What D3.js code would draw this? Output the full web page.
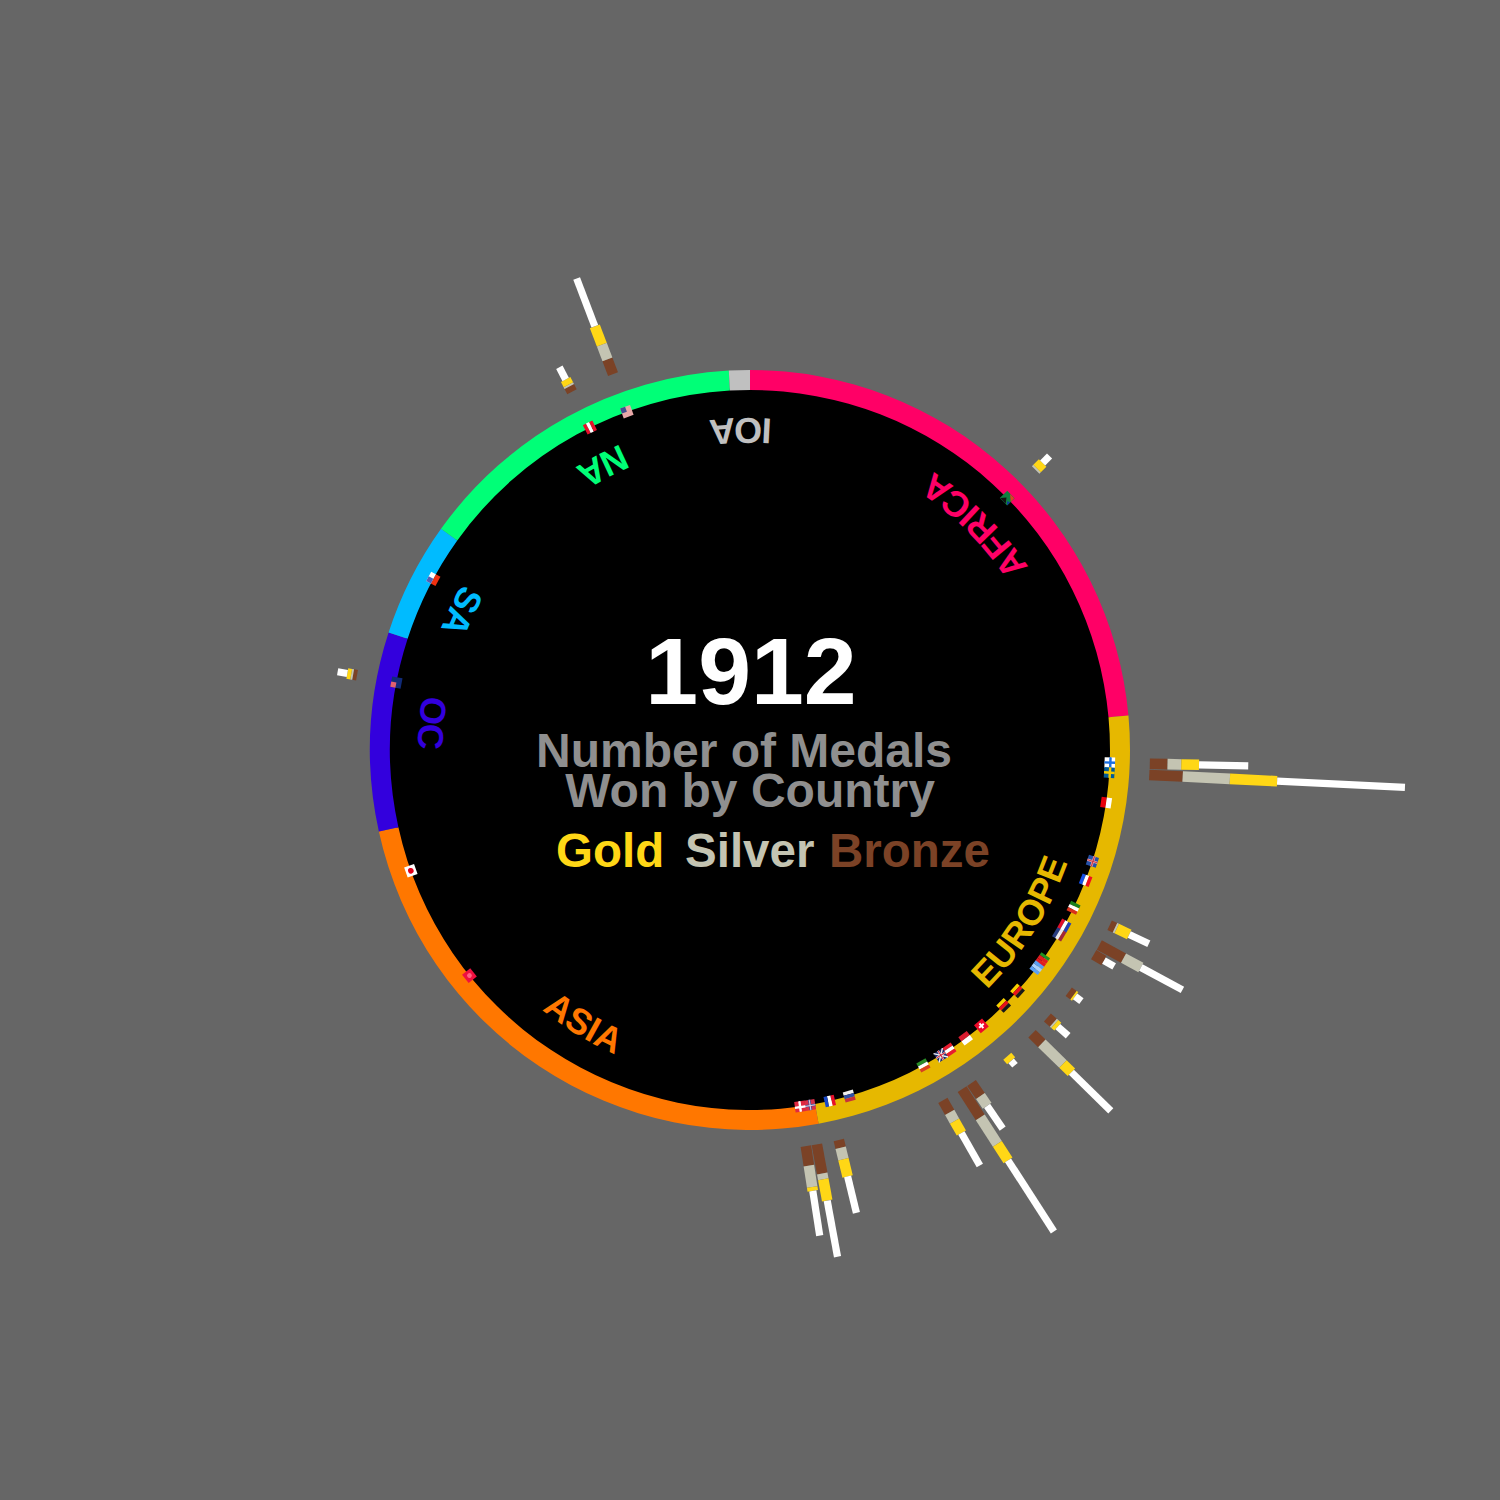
<!DOCTYPE html>
<html>
<head>
<meta charset="utf-8">
<script src="https://cdnjs.cloudflare.com/ajax/libs/d3/7.8.5/d3.min.js"></script>
<style>html,body{margin:0;padding:0;background:#666666;overflow:hidden}svg{display:block}text{font-family:"Liberation Sans",Arial,sans-serif;font-weight:bold}</style>
</head>
<body>
<svg id="chart" width="1500" height="1500"></svg>
<script>
// Continents: how many of the 225 slots round the ring each one takes
const continents = ["AFRICA","EUROPE","ASIA","OC","SA","NA","IOA"];
const continentSlots = [53,53,55,19,11,32,2];
const continentColors = ["#ff0066","#e6b800","#ff7700","#3300dd","#00bbff","#00ff77","#c0c0c0"];
const labelNudge = [2.6,-4.8,-2.3,2,-1.1,1.4,-0.1];
const labelRadius = [333,337,333,332,332,332,332];

// Medal table of 1912, by ring slot
const medalSlots  = [57,58,72,74,75,79,82,84,87,91,92,94,104,106,107,208,212,175,28];
const medalBronze = [ 9,17, 3,14, 6, 3, 4, 7, 0, 8,17, 7,  4, 15, 10,  3,  8,  2, 0];
const medalSilver = [ 7,24, 1,10, 0, 0, 1,15, 0, 6,16, 5,  6,  3, 11,  1,  8,  1, 1];
const medalGold   = [ 9,24, 7, 0, 0, 1, 2, 6, 3, 0,10, 7,  9, 11,  2,  3, 10,  2, 4];

// Participating nations: slot, pattern and colours of the flag
const flagSlots = [57,58,61,67,69,72,74,75,78,79,82,84,87,89,91,92,94,102,104,106,107,144,156,175,186,208,212,28];
const flagKinds = ["nordic","nordic","v","nordic","v","h","v","v","h","h","v","v","swiss","v","v","gb","v","v","h","nordic","nordic","turkey","japan","canton","chile","h","canton","za"];
const flagColors = [
 ["#ffffff","#1a6fe0","#1a6fe0"],["#005b99","#f0c800","#f0c800"],["#e8000b","#ffffff"],["#2450a8","#e8a0a8","#c8303c"],
 ["#1450e8","#ffffff","#f01020"],["#18801c","#ffffff","#d8301c"],["#e0102a","#ffffff","#2040b8"],["#283c80","#e8e8f0","#a02838"],
 ["#209020","#e01c20","#e01c20"],["#5aa0f4","#a8d0ff","#5aa0f4"],["#f8d000","#e8101c","#181818"],["#f8d000","#e8101c","#181818"],
 ["#ee0a2a","#ffffff"],["#d81c30","#ffffff"],["#e81c30","#ffffff","#e81c30"],["#1c2c70","#f0f0f0","#d02038"],
 ["#288c28","#ffffff","#d84020"],["#f0f0f0","#3050a8","#c8303c"],["#e8102a","#ffffff","#1848c8"],["#d83048","#3a50a0","#f0d0d8"],
 ["#e02840","#ffffff","#ffffff"],["#ee1040","#ff6080"],["#ffffff","#e00018"],["#102a78","#e06070"],
 ["#f03010","#ffffff","#5060b8"],["#e8102a","#ffffff","#e8102a"],["#e8a8a8","#405090"],["#108040","#101010","#e04020","#1030a0"]
];

const rows = medalSlots.map((slot,i)=>({
  slot, bronze:medalBronze[i], silver:medalSilver[i], gold:medalGold[i],
  total:medalBronze[i]+medalSilver[i]+medalGold[i]
}));

const medalKeys = ["bronze","silver","gold","total"];
const medalFill = d3.scaleOrdinal().domain(medalKeys).range(["#7b4226","#c4c4b2","#ffd716","#ffffff"]);
const medalWidth = d3.scaleOrdinal().domain(medalKeys).range([10.6,10.6,10.6,7.2]);

const slotScale = d3.scaleBand().domain(d3.range(225)).range([0,360]).paddingInner(0).paddingOuter(0);
const slotMid = s => slotScale(s)+slotScale.bandwidth()/2;
const radius = d3.scaleLinear().domain([0,130]).range([400,656]);

const svg = d3.select("#chart");
const root = svg.append("g").attr("transform","translate(750,750)");
const rad = Math.PI/180;

root.append("circle").attr("r",362).attr("fill","#000000");

// Continent ring
let cursor = 0;
const segs = continents.map((name,i)=>{
  const start = cursor, end = cursor+continentSlots[i];
  cursor = end;
  return {name,color:continentColors[i],a0:start*slotScale.step(),a1:end*slotScale.step(),nudge:labelNudge[i],lr:labelRadius[i]};
});
const ringArc = d3.arc().innerRadius(360).outerRadius(380);
root.selectAll("path.ring").data(segs).join("path").attr("class","ring")
  .attr("d",d=>ringArc({startAngle:d.a0*rad,endAngle:d.a1*rad}))
  .attr("fill",d=>d.color);

// Continent labels on arcs, running anticlockwise with letter tops to the centre
const defs = svg.append("defs");
segs.forEach((d,i)=>{
  const mid = (d.a0+d.a1)/2+d.nudge, p = d3.path();
  p.arc(0,0,d.lr,(mid+70-90)*rad,(mid-70-90)*rad,true);
  defs.append("path").attr("id","lab"+i).attr("d",p.toString());
  root.append("text").attr("fill",d.color).attr("font-size",36).attr("text-anchor","middle")
    .append("textPath").attr("href","#lab"+i).attr("startOffset","50%").text(d.name);
});

// Medal bars: each rect starts at the leading edge of its slot
const stacked = d3.stack().keys(medalKeys)(rows);
root.selectAll("g.layer").data(stacked).join("g").attr("class","layer")
  .attr("fill",s=>medalFill(s.key))
  .each(function(s){
    const w = medalWidth(s.key);
    d3.select(this).selectAll("rect").data(s).join("rect")
      .attr("transform",d=>`rotate(${slotScale(d.data.slot)})`)
      .attr("x",5.4-w/2).attr("width",w)
      .attr("y",d=>-radius(d[1]))
      .attr("height",d=>radius(d[1])-radius(d[0]));
  });

// Flags: local +x points outward from the centre
const F = 10.5, H = F/2;
function drawFlag(g,kind,c){
  const r = (x,y,w,h,f)=>g.append("rect").attr("x",x).attr("y",y).attr("width",w).attr("height",h).attr("fill",f);
  if(kind==="v"){const w=F/c.length;c.forEach((f,i)=>r(-H+i*w,-H,w,F,f));}
  else if(kind==="h"){
    const hs = c[1]===c[2] ? [.3,.35,.35] : c.map(()=>1/c.length);
    let y=-H; c.forEach((f,i)=>{r(-H,y,F,hs[i]*F,f);y+=hs[i]*F;});
  }
  else if(kind==="nordic"){r(-H,-H,F,F,c[0]);r(-.6,-H,2.4,F,c[1]);r(-H,-1.2,F,2.4,c[1]);r(.1,-H,1,F,c[2]);r(-H,-.5,F,1,c[2]);}
  else if(kind==="swiss"){r(-H,-H,F,F,c[0]);r(-1,-3,2,6,c[1]);r(-3,-1,6,2,c[1]);}
  else if(kind==="gb"){
    r(-H,-H,F,F,c[0]);
    [[-H,-H,H,H],[-H,H,H,-H]].forEach(l=>g.append("line").attr("x1",l[0]).attr("y1",l[1]).attr("x2",l[2]).attr("y2",l[3]).attr("stroke",c[1]).attr("stroke-width",1.4));
    r(-H,-1,F,2,c[1]);r(-1,-H,2,F,c[1]);r(-H,-.5,F,1,c[2]);r(-.5,-H,1,F,c[2]);
  }
  else if(kind==="turkey"){r(-H,-H,F,F,c[0]);g.append("circle").attr("r",2.4).attr("fill",c[1]);}
  else if(kind==="japan"){r(-H,-H,F,F,c[0]);g.append("circle").attr("r",2.8).attr("fill",c[1]);}
  else if(kind==="canton"){r(-H,-H,F,F,c[0]);r(0,-H,H,H,c[1]);}
  else if(kind==="chile"){r(-H,-H,H,F,c[0]);r(0,-H,H,F,c[1]);r(0,-H,H,H,c[2]);}
  else if(kind==="za"){
    r(-H,-H,F,F,c[0]);
    g.append("path").attr("d","M-5,-5L0,-1L-5,3Z").attr("fill",c[1]);
    g.append("path").attr("d","M5,-1L5,5L0,5Z").attr("fill",c[2]);
    g.append("path").attr("d","M-5,5L-2,2L-1,5Z").attr("fill",c[3]);
  }
}
flagSlots.forEach((slot,i)=>{
  const g = root.append("g").attr("transform",`rotate(${slotMid(slot)}) translate(0,-360) rotate(-90)`);
  drawFlag(g,flagKinds[i],flagColors[i]);
});

// Centre texts
const title = svg.append("g");
const put = (t,x,y,size,fill,anchor)=>title.append("text").attr("x",x).attr("y",y).attr("font-size",size).attr("fill",fill).attr("text-anchor",anchor).text(t);
put("1912",751,703.5,95,"#ffffff","middle");
put("Number of Medals",744,767,48,"#8f8f8f","middle");
put("Won by Country",750,807,48,"#8f8f8f","middle");
put("Gold",556,867,47.5,"#ffd716","start");
put("Silver",685,867,47.5,"#c4c4b2","start");
put("Bronze",829,867,47.5,"#7b4226","start");
</script>
</body>
</html>
